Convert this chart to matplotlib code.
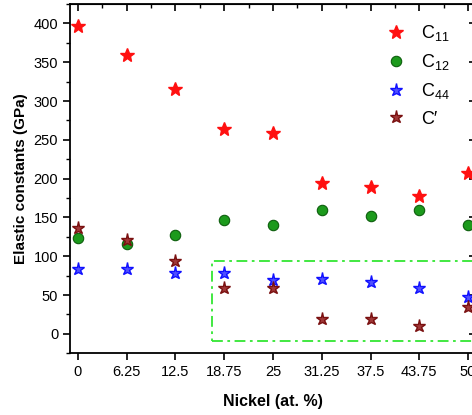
import numpy as np
import matplotlib.pyplot as plt
from matplotlib.patches import Rectangle
from matplotlib.ticker import MultipleLocator

plt.rcParams['font.family'] = ['Liberation Sans', 'DejaVu Sans']
plt.rcParams['mathtext.fontset'] = 'custom'
plt.rcParams['mathtext.rm'] = 'Liberation Sans'
plt.rcParams['mathtext.it'] = 'Liberation Sans'

nickel = [0, 6.25, 12.5, 18.75, 25, 31.25, 37.5, 43.75, 50]
c11 = [396, 359, 316, 264, 259, 195, 189, 177, 207]
c12 = [123, 116, 128, 147, 140, 159, 152, 159, 140]
c44 = [83, 83, 79, 78, 70, 71, 67, 59, 48]
c_prime = [137, 121, 94, 59, 59, 19, 19, 10, 35]
tick_labels = ['0', '6.25', '12.5', '18.75', '25', '31.25', '37.5', '43.75', '50']

fig = plt.figure(figsize=(4.72, 4.15), dpi=100)
ax = fig.add_axes([0.1483, 0.1487, 0.860, 0.8417])

ax.plot(nickel, c11, ls='none', marker='*', ms=10.5, mfc='#ff1010', mec='#ff1010',
        label='C$_{11}$', zorder=3)
ax.plot(nickel, c12, ls='none', marker='o', ms=7.5, mfc='#1c9a1c', mec='#0d5e0d',
        mew=0.8, label='C$_{12}$', zorder=3)
ax.plot(nickel, c44, ls='none', marker='*', ms=9.5, mfc='#5050ff', mec='#1010ff',
        mew=1.0, label='C$_{44}$', zorder=3)
ax.plot(nickel, c_prime, ls='none', marker='*', ms=9.5, mfc='#a03838', mec='#7a1010',
        mew=1.0, label="C\u2032", zorder=3)

# highlighted region
rect = Rectangle((17.2, -9), 40, 103, fill=False, edgecolor='#33e633', lw=1.3,
                 linestyle=(0, (6, 2.5, 1.5, 2.5)), zorder=2)
ax.add_patch(rect)

ax.set_xlim(-1, 51)
ax.set_ylim(-25, 425)
ax.set_xticks(nickel)
ax.set_xticklabels(tick_labels)
ax.set_yticks(np.arange(0, 401, 50))
ax.yaxis.set_minor_locator(MultipleLocator(25))

ax.tick_params(axis='both', which='major', direction='out', length=5, width=1.2,
               labelsize=10.5, top=False, right=False)
ax.tick_params(axis='y', which='minor', direction='out', length=3, width=1.0)
for s in ax.spines.values():
    s.set_linewidth(1.3)

top = ax.secondary_xaxis('top')
top.set_xticks(nickel)
top.xaxis.set_minor_locator(MultipleLocator(3.125))
top.tick_params(which='major', direction='in', length=5, width=1.2, labeltop=False)
top.tick_params(which='minor', direction='in', length=3, width=1.0)
right = ax.secondary_yaxis('right')
right.set_yticks(np.arange(0, 401, 50))
right.yaxis.set_minor_locator(MultipleLocator(25))
right.tick_params(which='major', direction='in', length=5, width=1.2, labelright=False)
right.tick_params(which='minor', direction='in', length=3, width=1.0)

ax.set_xlabel('Nickel (at. %)', fontsize=11.5, fontweight='bold', labelpad=11)
ax.set_ylabel('Elastic constants (GPa)', fontsize=11, fontweight='bold', labelpad=4)

ax.legend(loc='upper left', bbox_to_anchor=(0.762, 0.965), frameon=False,
          fontsize=13, handlelength=1.0, handletextpad=0.9, labelspacing=0.5,
          borderaxespad=0)

fig.savefig('out.png', dpi=100)
